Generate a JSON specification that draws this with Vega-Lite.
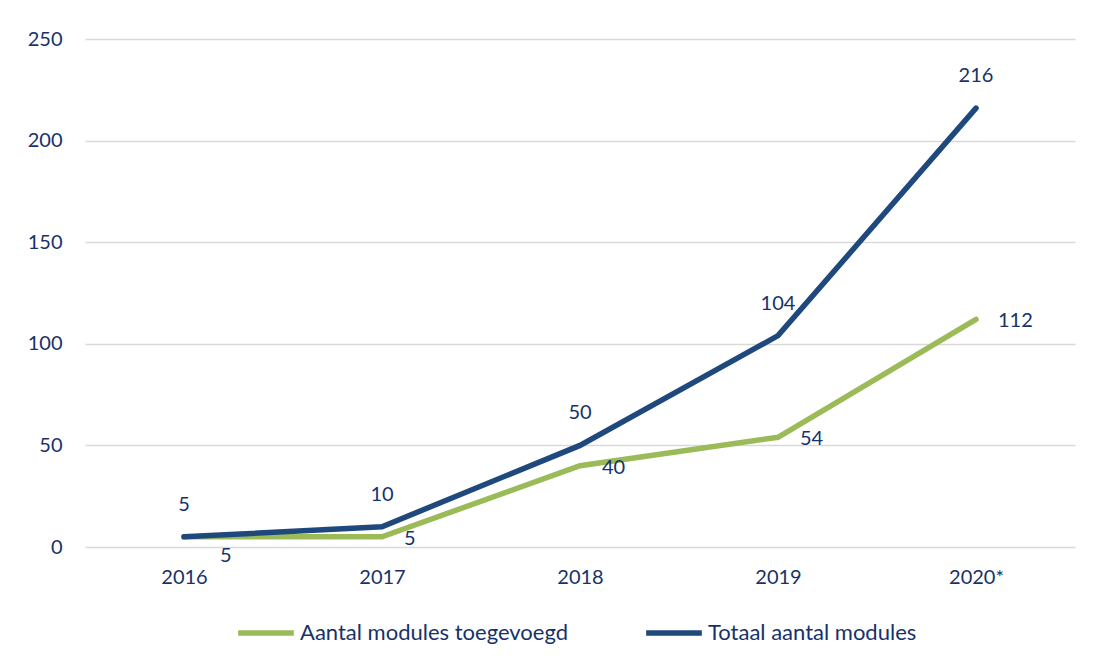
{
  "$schema": "https://vega.github.io/schema/vega-lite/v6.json",
  "width": 990,
  "height": 508,
  "autosize": {"type": "none"},
  "padding": {"left": 85, "top": 39, "right": 22, "bottom": 119},
  "background": "white",
  "config": {
    "view": {"stroke": null},
    "font": "Lato",
    "text": {"font": "Lato", "fontSize": 20, "color": "#17326a"}
  },
  "data": {
    "values": [
      {"year": "2016", "series": "Aantal modules toegevoegd", "value": 5},
      {"year": "2017", "series": "Aantal modules toegevoegd", "value": 5},
      {"year": "2018", "series": "Aantal modules toegevoegd", "value": 40},
      {"year": "2019", "series": "Aantal modules toegevoegd", "value": 54},
      {"year": "2020*", "series": "Aantal modules toegevoegd", "value": 112},
      {"year": "2016", "series": "Totaal aantal modules", "value": 5},
      {"year": "2017", "series": "Totaal aantal modules", "value": 10},
      {"year": "2018", "series": "Totaal aantal modules", "value": 50},
      {"year": "2019", "series": "Totaal aantal modules", "value": 104},
      {"year": "2020*", "series": "Totaal aantal modules", "value": 216}
    ]
  },
  "encoding": {
    "x": {
      "field": "year",
      "type": "ordinal",
      "scale": {"type": "point", "padding": 0.5},
      "axis": {
        "title": null,
        "labelAngle": 0,
        "domain": false,
        "ticks": false,
        "labelPadding": 20,
        "labelFont": "Lato",
        "labelFontSize": 20,
        "labelColor": "#17326a"
      }
    },
    "y": {
      "field": "value",
      "type": "quantitative",
      "scale": {"domain": [0, 250], "nice": false},
      "axis": {
        "title": null,
        "values": [0, 50, 100, 150, 200, 250],
        "domain": false,
        "ticks": false,
        "labelPadding": 23,
        "labelFont": "Lato",
        "labelFontSize": 20,
        "labelColor": "#17326a",
        "gridColor": "#d9d9d9",
        "gridWidth": 1.5
      }
    }
  },
  "layer": [
    {
      "mark": {"type": "line", "strokeWidth": 5.5, "strokeCap": "round", "strokeJoin": "miter"},
      "encoding": {
        "color": {
          "field": "series",
          "type": "nominal",
          "scale": {
            "domain": ["Aantal modules toegevoegd", "Totaal aantal modules"],
            "range": ["#9bbb59", "#1f497d"]
          },
          "legend": {
            "title": null,
            "orient": "none",
            "direction": "horizontal",
            "legendX": 150,
            "legendY": 563,
            "symbolType": "stroke",
            "symbolSize": 3100,
            "symbolStrokeWidth": 5.5,
            "labelFont": "Lato",
            "labelFontSize": 22,
            "labelColor": "#17326a",
            "labelLimit": 0,
            "labelOffset": 3,
            "columnPadding": 66
          }
        },
        "order": {"field": "series"}
      }
    },
    {
      "transform": [{"filter": "datum.series === 'Totaal aantal modules'"}],
      "mark": {"type": "text", "dy": -32, "align": "center", "baseline": "middle"},
      "encoding": {"text": {"field": "value", "type": "quantitative"}}
    },
    {
      "transform": [{"filter": "datum.series === 'Aantal modules toegevoegd' && datum.year !== '2016'"}],
      "mark": {"type": "text", "dx": 22, "dy": 2, "align": "left", "baseline": "middle"},
      "encoding": {"text": {"field": "value", "type": "quantitative"}}
    },
    {
      "transform": [{"filter": "datum.series === 'Aantal modules toegevoegd' && datum.year === '2016'"}],
      "mark": {"type": "text", "dx": 36, "dy": 19, "align": "left", "baseline": "middle"},
      "encoding": {"text": {"field": "value", "type": "quantitative"}}
    }
  ]
}
